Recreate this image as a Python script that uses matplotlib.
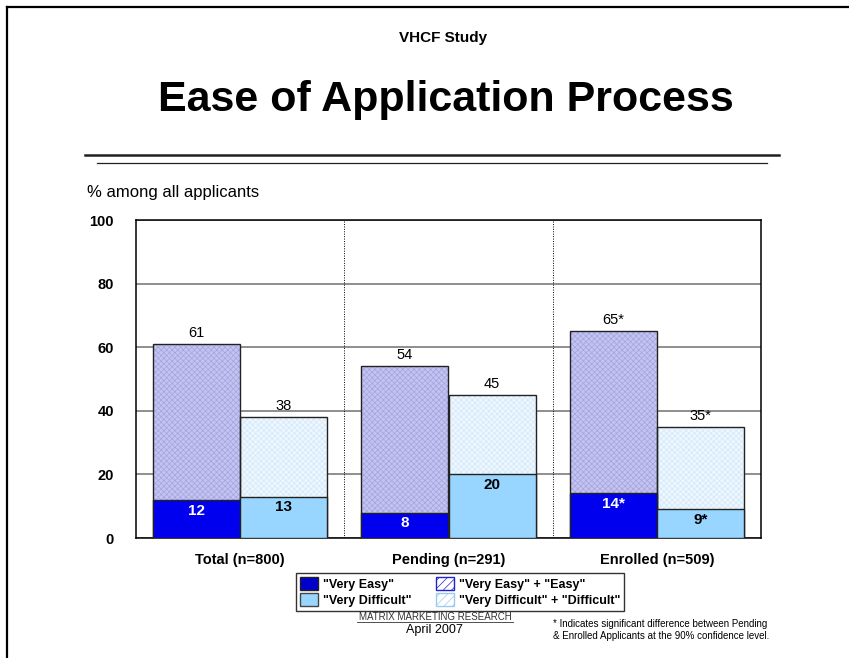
import matplotlib.pyplot as plt
import numpy as np
from matplotlib.patches import Patch
from matplotlib.lines import Line2D

plt.rcParams['font.family'] = ['Liberation Sans', 'DejaVu Sans']
plt.rcParams['hatch.linewidth'] = 0.5

groups = ["Total (n=800)", "Pending (n=291)", "Enrolled (n=509)"]
easy_top = [61, 54, 65]
easy_base = [12, 8, 14]
diff_top = [38, 45, 35]
diff_base = [13, 20, 9]
easy_top_lbl = ["61", "54", "65*"]
easy_base_lbl = ["12", "8", "14*"]
diff_top_lbl = ["38", "45", "35*"]
diff_base_lbl = ["13", "20", "9*"]
legend_labels = ['"Very Easy"', '"Very Difficult"',
                 '"Very Easy" + "Easy"', '"Very Difficult" + "Difficult"']

W, H = 849, 658
fig = plt.figure(figsize=(W / 100, H / 100), dpi=100)

def fx(px):
    return px / W

def fy(py):
    return 1 - py / H

# slide frame lines
fig.add_artist(Line2D([fx(7), fx(7)], [fy(7), 0], color='black', lw=1.6))
fig.add_artist(Line2D([fx(7), 1], [fy(7), fy(7)], color='black', lw=1.6))

# titles
fig.text(fx(443), fy(38), "VHCF Study", ha='center', va='center',
         fontsize=11, fontweight='bold')
fig.text(fx(446), fy(111), "Ease of Application Process", ha='center',
         va='baseline', fontsize=31, fontweight='bold')
fig.add_artist(Line2D([fx(85), fx(779)], [fy(155), fy(155)], color='#202020', lw=1.8))
fig.add_artist(Line2D([fx(97), fx(767)], [fy(162.5), fy(162.5)], color='#202020', lw=0.9))
fig.text(fx(87), fy(192), "% among all applicants", ha='left', va='center', fontsize=12)

ax = fig.add_axes([fx(136), fy(538), fx(761) - fx(136), fy(220) - fy(538)])
x = np.arange(len(groups))
bw = 0.418
xe = x - bw / 2
xd = x + bw / 2

# hatched totals
ax.bar(xe, easy_top, bw, color='#c4c4f0', edgecolor='#a4a4e2', hatch='xxxxxx', lw=0, zorder=2)
ax.bar(xe, easy_top, bw, fill=False, edgecolor='#222222', lw=1, zorder=3)
ax.bar(xd, diff_top, bw, color='#eef7ff', edgecolor='#d2e8f8', hatch='xxxxxx', lw=0, zorder=2)
ax.bar(xd, diff_top, bw, fill=False, edgecolor='#222222', lw=1, zorder=3)
# solid bases
ax.bar(xe, easy_base, bw, color='#0000ee', edgecolor='#222222', lw=1, zorder=4)
ax.bar(xd, diff_base, bw, color='#99d6ff', edgecolor='#222222', lw=1, zorder=4)

for i in range(len(groups)):
    ax.text(xe[i], easy_top[i] + 1.2, easy_top_lbl[i], ha='center', va='bottom', fontsize=10.5, zorder=5)
    ax.text(xd[i], diff_top[i] + 1.2, diff_top_lbl[i], ha='center', va='bottom', fontsize=10.5, zorder=5)
    ax.text(xe[i], easy_base[i] - 1.2, easy_base_lbl[i], ha='center', va='top', fontsize=11,
            fontweight='bold', color='white', zorder=5)
    ax.text(xd[i], diff_base[i] - 1.2, diff_base_lbl[i], ha='center', va='top', fontsize=11,
            fontweight='bold', color='black', zorder=5)

for sep in [0.5, 1.5]:
    ax.axvline(sep, color='black', lw=0.7, ls=(0, (1, 1.5)), zorder=1)

ax.set_xlim(-0.5, 2.5)
ax.set_ylim(0, 100)
ax.set_yticks([0, 20, 40, 60, 80, 100])
ax.yaxis.grid(True, color='#707070', lw=1.1)
ax.set_axisbelow(True)
ax.tick_params(axis='y', length=0, pad=16, labelsize=10.5)
for lab in ax.get_yticklabels():
    lab.set_fontweight('bold')
ax.set_xticks(x)
ax.set_xticklabels(groups, fontsize=10.5, fontweight='bold')
ax.tick_params(axis='x', length=0, pad=11)
for s in ax.spines.values():
    s.set_color('black')
    s.set_linewidth(1.1)

handles = [Patch(facecolor='#0000cc', edgecolor='#222222'),
           Patch(facecolor='#99d6ff', edgecolor='#444444'),
           Patch(facecolor='white', edgecolor='#2222cc', hatch='////'),
           Patch(facecolor='white', edgecolor='#99ccee', hatch='////')]
leg = fig.legend(handles, legend_labels, ncol=2, loc='center',
                 bbox_to_anchor=(fx(460), fy(592)),
                 prop={'weight': 'bold', 'size': 9}, frameon=True, fancybox=False,
                 edgecolor='black', handlelength=1.4, handleheight=1.2,
                 handletextpad=0.4, columnspacing=2.0, labelspacing=0.2,
                 borderpad=0.3, borderaxespad=0)
leg.get_frame().set_linewidth(1)

# footer
fig.text(fx(435), fy(617), "MATRIX MARKETING RESEARCH", ha='center', va='center',
         fontsize=7, color='#333333')
fig.add_artist(Line2D([fx(357), fx(513)], [fy(622), fy(622)], color='#333333', lw=0.6))
fig.text(fx(434), fy(630), "April 2007", ha='center', va='center', fontsize=9)
fig.text(fx(553), fy(630), "* Indicates significant difference between Pending\n"
         "& Enrolled Applicants at the 90% confidence level.",
         ha='left', va='center', fontsize=7, linespacing=1.2)

fig.savefig("out.png", dpi=100)
